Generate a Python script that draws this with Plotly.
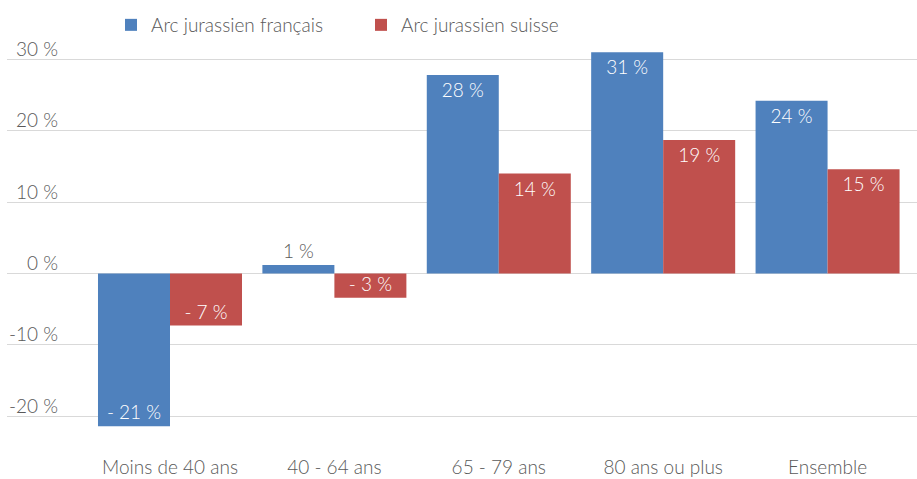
import plotly.graph_objects as go

categories = ["Moins de 40 ans", "40 - 64 ans", "65 - 79 ans", "80 ans ou plus", "Ensemble"]
series_names = ["Arc jurassien français", "Arc jurassien suisse"]
values_fr = [-21.4, 1.2, 27.8, 31.0, 24.2]
values_ch = [-7.3, -3.4, 14.0, 18.7, 14.6]
y_ticks = [-20, -10, 0, 10, 20, 30]

BLUE = "#4F81BD"
RED = "#C0504D"
GREY = "#595959"
GRID = "#D9D9D9"
FONT = "Lato"
FS = 19
WT = 300


def fmt(v):
    r = int(round(v))
    return f"- {abs(r)} %" if r < 0 else f"{r} %"


def positions(vals):
    return ["outside" if abs(v) < 2 else "inside" for v in vals]


fig = go.Figure()
for name, vals, col in [(series_names[0], values_fr, BLUE), (series_names[1], values_ch, RED)]:
    fig.add_trace(go.Bar(
        x=categories, y=vals, name=name,
        marker=dict(color=col, line=dict(width=0)),
        text=[fmt(v) for v in vals],
        textposition=positions(vals),
        insidetextanchor="end",
        constraintext="none",
        insidetextfont=dict(color="white", size=FS, family=FONT, weight=WT),
        outsidetextfont=dict(color=GREY, size=FS, family=FONT, weight=WT),
        textangle=0,
        cliponaxis=False,
        hoverinfo="skip",
    ))

W, H = 917, 479
ml, mr, mt, mb = 7, 0, 45, 27
plot_w = W - ml - mr
plot_h = H - mt - mb

for t in y_ticks:
    fig.add_annotation(
        x=(60 - ml) / plot_w, xref="paper", xanchor="right",
        y=t, yref="y", yanchor="middle", yshift=11,
        text=(f"{t} %"), showarrow=False,
        font=dict(size=FS, color=GREY, family=FONT, weight=WT),
    )

fig.update_layout(
    width=W, height=H,
    margin=dict(l=ml, r=mr, t=mt, b=mb, autoexpand=False),
    paper_bgcolor="white", plot_bgcolor="white",
    barmode="group", bargap=0.124, bargroupgap=0,
    font=dict(family=FONT, color=GREY, size=FS, weight=WT),
    showlegend=True,
    legend=dict(
        orientation="h", x=(111 - ml) / plot_w, xanchor="left",
        y=1 + (mt - 25) / plot_h, yanchor="middle",
        font=dict(size=FS, color=GREY, family=FONT, weight=WT),
        entrywidth=205, entrywidthmode="pixels",
        itemclick=False,
    ),
    xaxis=dict(
        range=[-0.9915, 4.544], showgrid=False, showline=False, zeroline=False,
        ticks="", tickfont=dict(size=FS, color=GREY, family=FONT, weight=WT),
        ticklabelstandoff=2,
        fixedrange=True,
    ),
    yaxis=dict(
        range=[-25, 32], tickvals=y_ticks, showticklabels=False,
        showgrid=True, gridcolor=GRID, gridwidth=1,
        zeroline=True, zerolinecolor=GRID, zerolinewidth=1,
        showline=False, fixedrange=True,
    ),
)

fig.write_html("out.html", config={"displayModeBar": False},
               post_script="document.body.style.margin='0';")
